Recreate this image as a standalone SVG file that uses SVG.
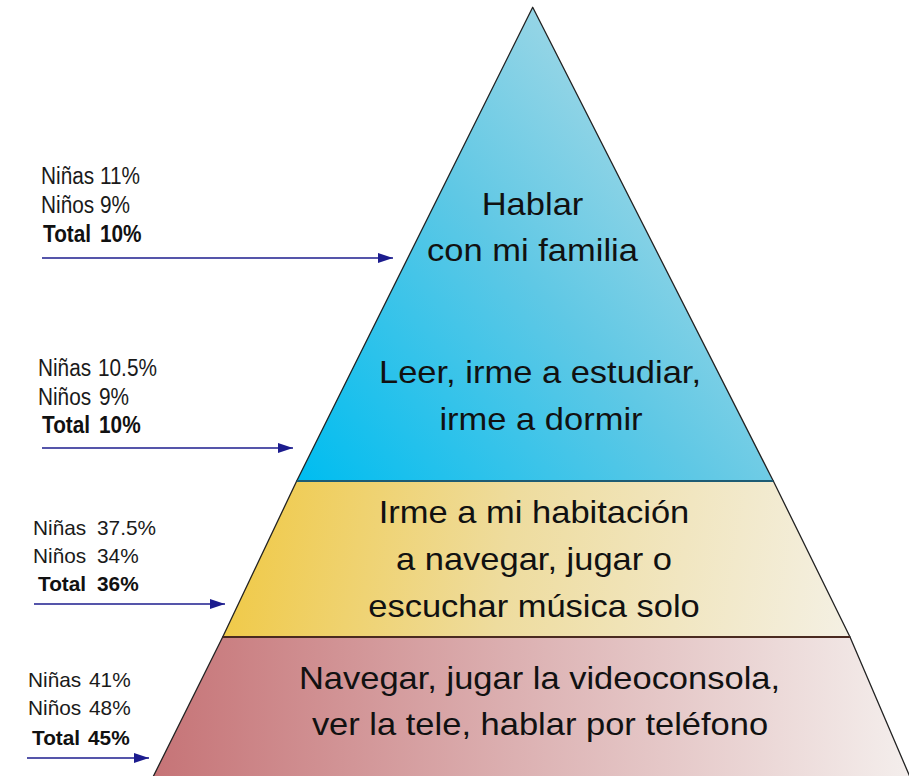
<svg xmlns="http://www.w3.org/2000/svg" width="909" height="776" viewBox="0 0 909 776">
  <style>
    .big { font-family: "Liberation Sans", Arial, sans-serif; font-size: 34.5px; fill: #111; text-anchor: middle; }
    .small { font-family: "Liberation Sans", Arial, sans-serif; font-size: 20.8px; fill: #1a1a1a; }
    .bold { font-weight: bold; fill: #111; }
    .edge { stroke: #222; stroke-width: 1.3; stroke-linejoin: round; }
    .arrow { stroke: #1c1c8e; stroke-width: 1.7; fill: none; }
  </style>
  <defs>
    <linearGradient id="gBlue" gradientUnits="userSpaceOnUse" x1="300" y1="480" x2="720" y2="120">
      <stop offset="0" stop-color="#00BDF0"/>
      <stop offset="0.55" stop-color="#5FC8E5"/>
      <stop offset="1" stop-color="#AADAE6"/>
    </linearGradient>
    <linearGradient id="gYellow" gradientUnits="userSpaceOnUse" x1="225" y1="520" x2="850" y2="620">
      <stop offset="0" stop-color="#F0C945"/>
      <stop offset="0.45" stop-color="#EEDC9E"/>
      <stop offset="1" stop-color="#F4F0E3"/>
    </linearGradient>
    <linearGradient id="gRed" gradientUnits="userSpaceOnUse" x1="155" y1="700" x2="909" y2="700">
      <stop offset="0" stop-color="#C67477"/>
      <stop offset="0.5" stop-color="#DDB3B4"/>
      <stop offset="1" stop-color="#F4EEEC"/>
    </linearGradient>
    <marker id="ah" viewBox="0 0 15 10" refX="15" refY="5" markerWidth="15" markerHeight="10" markerUnits="userSpaceOnUse" orient="auto">
      <path d="M0,0 L15,5 L0,10 z" fill="#1c1c8e"/>
    </marker>
  </defs>

  <rect width="909" height="776" fill="#ffffff"/>

  <g id="tier-top">
    <polygon class="edge" points="532.7,7.3 773.3,481 296.7,481" fill="url(#gBlue)"/>
    <text class="big" transform="translate(532.5,215) scale(1,0.91)">Hablar</text>
    <text class="big" transform="translate(532.5,261) scale(1,0.91)">con mi familia</text>
    <text class="big" transform="translate(540,383) scale(1,0.91)">Leer, irme a estudiar,</text>
    <text class="big" transform="translate(541,430) scale(1,0.91)">irme a dormir</text>
  </g>

  <g id="tier-yellow">
    <polygon class="edge" points="296.7,481 773.3,481 850,637 222.7,637" fill="url(#gYellow)"/>
    <line x1="296.7" y1="481" x2="773.3" y2="481" stroke="#1d5c74" stroke-width="2.2"/>
    <text class="big" transform="translate(534,523) scale(1,0.91)">Irme a mi habitación</text>
    <text class="big" transform="translate(534,570) scale(1,0.91)">a navegar, jugar o</text>
    <text class="big" transform="translate(534,617) scale(1,0.91)">escuchar música solo</text>
  </g>

  <g id="tier-red">
    <polygon class="edge" points="222.7,637 850,637 910,777 153,777" fill="url(#gRed)"/>
    <line x1="222.7" y1="637" x2="850" y2="637" stroke="#4a2a20" stroke-width="1.8"/>
    <text class="big" transform="translate(539.5,689) scale(1,0.91)">Navegar, jugar la videoconsola,</text>
    <text class="big" transform="translate(540,735) scale(1,0.91)">ver la tele, hablar por teléfono</text>
  </g>

  <g id="label-1">
    <text class="small" transform="translate(0,184) scale(1,1.14)"><tspan x="41">Niñas</tspan><tspan x="100">11%</tspan></text>
    <text class="small" transform="translate(0,213) scale(1,1.14)"><tspan x="41">Niños</tspan><tspan x="100">9%</tspan></text>
    <text class="small bold" transform="translate(0,242) scale(1,1.14)"><tspan x="43">Total</tspan><tspan x="100">10%</tspan></text>
  </g>

  <g id="label-2">
    <text class="small" transform="translate(0,376) scale(1,1.14)"><tspan x="38">Niñas</tspan><tspan x="98">10.5%</tspan></text>
    <text class="small" transform="translate(0,405) scale(1,1.14)"><tspan x="38">Niños</tspan><tspan x="99">9%</tspan></text>
    <text class="small bold" transform="translate(0,433) scale(1,1.14)"><tspan x="42">Total</tspan><tspan x="99">10%</tspan></text>
  </g>

  <g id="label-3">
    <text class="small" y="535"><tspan x="33">Niñas</tspan><tspan x="97">37.5%</tspan></text>
    <text class="small" y="563"><tspan x="33">Niños</tspan><tspan x="97">34%</tspan></text>
    <text class="small bold" y="591"><tspan x="38">Total</tspan><tspan x="97">36%</tspan></text>
  </g>

  <g id="label-4">
    <text class="small" y="687"><tspan x="28">Niñas</tspan><tspan x="89">41%</tspan></text>
    <text class="small" y="715"><tspan x="28">Niños</tspan><tspan x="89">48%</tspan></text>
    <text class="small bold" y="745"><tspan x="32">Total</tspan><tspan x="88">45%</tspan></text>
  </g>

  <g id="connectors">
    <line class="arrow" x1="42" y1="258" x2="393" y2="258" marker-end="url(#ah)"/>
    <line class="arrow" x1="42" y1="448" x2="293" y2="448" marker-end="url(#ah)"/>
    <line class="arrow" x1="34" y1="604" x2="225" y2="604" marker-end="url(#ah)"/>
    <line class="arrow" x1="27" y1="758" x2="149" y2="758" marker-end="url(#ah)"/>
  </g>
</svg>
